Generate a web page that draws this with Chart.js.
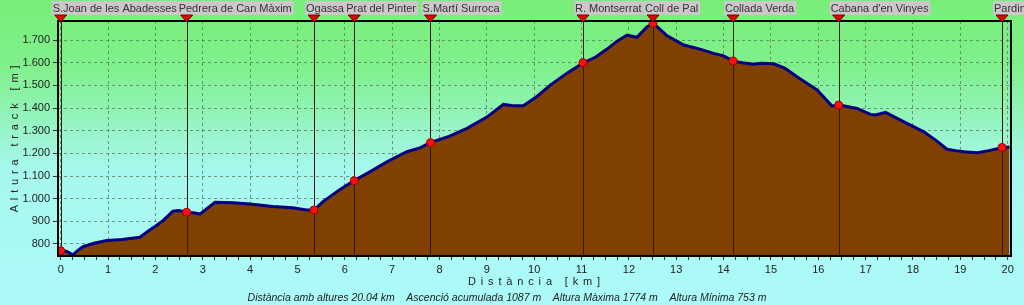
<!DOCTYPE html>
<html>
<head>
<meta charset="utf-8">
<title>Perfil S.Joan de les Abadesses - Pardina</title>
<script src="https://cdn.jsdelivr.net/npm/chart.js@4.4.0/dist/chart.umd.min.js"></script>
<style>
  html, body { margin: 0; padding: 0; background: #aaf8f8; }
  #wrap { width: 1024px; height: 305px; }
</style>
</head>
<body>
<div id="wrap"><canvas id="profileChart" width="1024" height="305"></canvas></div>
<script>
// profile: distance [km] / altitude [m]
const distKm = [
  0.00, 0.12, 0.26, 0.35, 0.47, 0.70, 0.97, 1.30, 1.67, 1.88,
  2.00, 2.16, 2.37, 2.50, 2.64, 2.80, 2.94, 3.10, 3.26, 3.64,
  4.00, 4.48, 4.90, 5.19, 5.35, 5.54, 5.90, 6.19, 6.50, 6.89,
  7.31, 7.60, 7.80, 8.20, 8.58, 9.00, 9.35, 9.55, 9.77, 10.05,
  10.34, 10.70, 11.04, 11.30, 11.53, 11.75, 11.96, 12.17, 12.38, 12.52,
  12.80, 13.16, 13.50, 13.79, 14.00, 14.21, 14.40, 14.63, 14.80, 15.06,
  15.30, 15.55, 15.98, 16.29, 16.45, 16.82, 17.10, 17.21, 17.42, 17.81,
  18.23, 18.50, 18.72, 18.90, 19.08, 19.36, 19.60, 19.90, 20.04
];
const altM = [
  770, 768, 752, 770, 788, 803, 815, 820, 830, 862,
  878, 903, 945, 948, 940, 938, 932, 958, 984, 982,
  976, 965, 960, 950, 950, 987, 1041, 1079, 1115, 1163,
  1207, 1225, 1247, 1275, 1310, 1360, 1416, 1410, 1410, 1450,
  1501, 1555, 1600, 1625, 1659, 1695, 1722, 1712, 1758, 1774,
  1720, 1678, 1660, 1641, 1630, 1607, 1600, 1593, 1597, 1595,
  1575, 1538, 1479, 1409, 1413, 1398, 1372, 1369, 1381, 1339,
  1295, 1255, 1218, 1212, 1207, 1203, 1212, 1226, 1228
];

// waypoints
const wpNames = [
  "S.Joan de les Abadesses", "Pedrera de Can Màxim", "Ogassa", "Prat del Pinter",
  "S.Martí Surroca", "R. Montserrat", "Coll de Pal", "Collada Verda",
  "Cabana d'en Vinyes", "Pardina"
];
const wpKm = [0.00, 2.66, 5.35, 6.20, 7.81, 11.03, 12.51, 14.20, 16.43, 19.88];
const wpAlt = [770, 940, 950, 1079, 1247, 1600, 1774, 1607, 1413, 1226];

const yTitle = "A l t u r a   t r a c k   [ m ]";
const xTitle = "D i s t à n c i a   [ k m ]";
const statsLine = "Distància amb altures 20.04 km    Ascenció acumulada 1087 m    Altura Màxima 1774 m    Altura Mínima 753 m";

const FONT = "'Liberation Sans', Arial, sans-serif";

function fmtThousands(v) {
  const s = String(Math.round(v));
  return s.length > 3 ? s.slice(0, s.length - 3) + "." + s.slice(-3) : s;
}

const backgroundPlugin = {
  id: "bgGradient",
  beforeDraw(chart) {
    const { ctx, width, height } = chart;
    const g = ctx.createLinearGradient(0, 0, 0, height);
    g.addColorStop(0, "rgb(120,238,120)");
    g.addColorStop(0.22, "rgb(128,240,140)");
    g.addColorStop(0.55, "rgb(166,248,236)");
    g.addColorStop(1, "rgb(172,250,250)");
    ctx.save();
    ctx.fillStyle = g;
    ctx.fillRect(0, 0, width, height);
    ctx.restore();
  }
};

// vertical waypoint lines, drawn under the red dots
const waypointLinesPlugin = {
  id: "wpLines",
  beforeDatasetDraw(chart, args) {
    if (args.index !== 1) return;
    const { ctx, chartArea } = chart;
    const xs = chart.scales.x;
    ctx.save();
    ctx.strokeStyle = "#2a1a0a";
    ctx.lineWidth = 1;
    wpKm.forEach((km) => {
      const px = Math.round(xs.getPixelForValue(km)) + 0.5;
      ctx.beginPath();
      ctx.moveTo(px, chartArea.top);
      ctx.lineTo(px, chartArea.bottom);
      ctx.stroke();
    });
    ctx.restore();
  }
};

// frame, top markers, labels, axis titles and the summary line
const decorPlugin = {
  id: "decor",
  afterDraw(chart) {
    const { ctx, chartArea } = chart;
    const xs = chart.scales.x;
    ctx.save();

    ctx.strokeStyle = "#000";
    ctx.lineWidth = 2;
    ctx.strokeRect(chartArea.left, chartArea.top, chartArea.right - chartArea.left, chartArea.bottom - chartArea.top);

    ctx.font = "11px " + FONT;
    ctx.textBaseline = "middle";
    wpKm.forEach((km, i) => {
      const px = xs.getPixelForValue(km);
      const w = ctx.measureText(wpNames[i]).width;
      ctx.fillStyle = "#cbc7cb";
      ctx.fillRect(px - 9, 1, w + 3, 14);
      ctx.fillStyle = "#333";
      ctx.textAlign = "left";
      ctx.fillText(wpNames[i], px - 8, 8.5);
      // red marker
      ctx.beginPath();
      ctx.moveTo(px - 6, 15);
      ctx.lineTo(px + 6, 15);
      ctx.lineTo(px, 22);
      ctx.closePath();
      ctx.fillStyle = "#e00000";
      ctx.fill();
      ctx.strokeStyle = "#7a0000";
      ctx.lineWidth = 1;
      ctx.stroke();
    });

    // axis titles, spaced out a bit like the original
    ctx.fillStyle = "#222";
    ctx.textAlign = "center";
    ctx.font = "11px " + FONT;
    ctx.letterSpacing = "0.9px";
    ctx.fillText(xTitle, (chartArea.left + chartArea.right) / 2, 282);
    ctx.save();
    ctx.translate(15, (chartArea.top + chartArea.bottom) / 2);
    ctx.rotate(-Math.PI / 2);
    ctx.fillText(yTitle, 0, 0);
    ctx.restore();
    ctx.letterSpacing = "0px";

    ctx.font = "italic 10.5px " + FONT;
    ctx.fillText(statsLine, 507, 298);
    ctx.restore();
  }
};

const canvas = document.getElementById("profileChart");

new Chart(canvas, {
  type: "line",
  data: {
    datasets: [
      {
        label: "Altura",
        data: distKm.map((d, i) => ({ x: d, y: altM[i] })),
        borderColor: "#000080",
        borderWidth: 3,
        backgroundColor: "#804000",
        fill: "start",
        pointRadius: 0,
        tension: 0,
        order: 2
      },
      {
        label: "Punts",
        data: wpKm.map((d, i) => ({ x: d, y: wpAlt[i] })),
        showLine: false,
        pointRadius: 4,
        pointBackgroundColor: "#ff1010",
        pointBorderColor: "#a00000",
        pointBorderWidth: 1,
        order: 1
      }
    ]
  },
  options: {
    responsive: false,
    animation: false,
    devicePixelRatio: 1,
    layout: { padding: { left: 0, top: 21, right: 13, bottom: 0 } },
    plugins: {
      legend: { display: false },
      tooltip: { enabled: false }
    },
    scales: {
      x: {
        type: "linear",
        min: -0.057,
        max: 20.07,
        afterFit(scale) { scale.height = 49; },
        border: { display: false, dash: [3, 3] },
        grid: {
          color: (c) => (c.tick && Number.isInteger(c.tick.value) ? "rgba(90,120,90,0.75)" : "rgba(0,0,0,0)"),
          tickColor: "#333",
          tickLength: 4,
          tickBorderDash: [0, 0]
        },
        ticks: {
          stepSize: 0.25,
          includeBounds: false,
          autoSkip: false,
          maxRotation: 0,
          padding: 3,
          color: "#222",
          font: { family: FONT, size: 11 },
          callback: (v) => (Number.isInteger(v) ? String(v) : "")
        }
      },
      y: {
        min: 747,
        max: 1784,
        afterFit(scale) { scale.width = 58; },
        border: { display: false, dash: [3, 3] },
        grid: {
          color: "rgba(90,120,90,0.75)",
          tickColor: "#333",
          tickLength: 5,
          tickBorderDash: [0, 0]
        },
        ticks: {
          stepSize: 100,
          includeBounds: false,
          padding: 3,
          color: "#222",
          font: { family: FONT, size: 11 },
          callback: (v) => fmtThousands(v)
        }
      }
    }
  },
  plugins: [backgroundPlugin, waypointLinesPlugin, decorPlugin]
});
</script>
</body>
</html>
